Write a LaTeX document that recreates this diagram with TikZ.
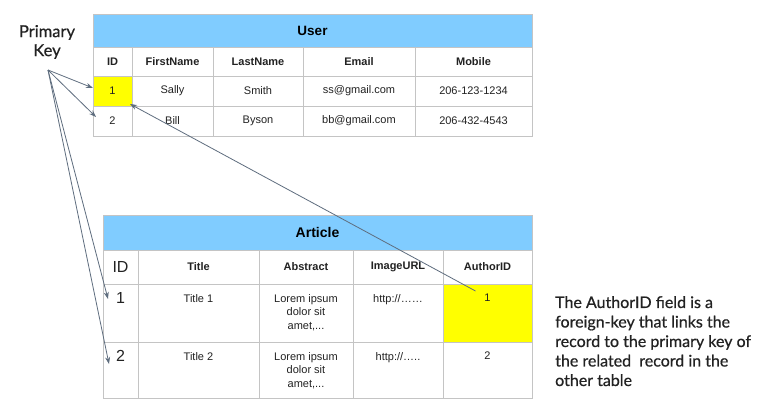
\documentclass[tikz,border=0pt]{standalone}
\usepackage{fontspec}
\setmainfont{Liberation Sans}
\newfontfamily\latofont[FakeBold=0.6]{Lato}
\usetikzlibrary{arrows.meta}
\definecolor{hdrblue}{HTML}{80CCFF}
\definecolor{keyyellow}{HTML}{FFFF00}
\definecolor{gridgray}{HTML}{C4C4C4}
\definecolor{txt}{HTML}{222222}
\definecolor{arrowgray}{HTML}{5E6D7E}
\newcommand\cellbox[7][]{\node[cell,minimum width=#5pt,minimum height=#6pt,#1] (#2) at (#3,#4) {#7};}
\begin{document}
\begin{tikzpicture}[x=1pt,y=-1pt,
  cell/.style={draw=gridgray, line width=0.9pt, inner sep=0pt, outer sep=0pt, anchor=north west,
    font=\fontsize{11}{13}\selectfont, text=txt},
  hdr/.style={fill=hdrblue, text=black},
  colhdr/.style={font=\bfseries\fontsize{11}{13}\selectfont},
  toptext/.style={anchor=north, inner sep=0pt, font=\fontsize{11}{13.7}\selectfont, text=txt, align=center},
  bignum/.style={anchor=north, inner sep=0pt, font=\fontsize{16}{18}\selectfont, text=txt},
  arr/.style={draw=arrowgray, line width=0.8pt, -{Stealth[length=7pt,width=5pt]}},
  note/.style={font=\latofont\fontsize{16}{19.5}\selectfont, text=txt, align=left, inner sep=0pt}]
\useasboundingbox (0,0) rectangle (770,412);
\fill[white] (0,0) rectangle (770,412);

% ---- User table ----
\cellbox[hdr,font=\bfseries\fontsize{13.5}{15}\selectfont]{uh}{93}{14}{439}{33}{User}
\cellbox[colhdr]{uc1}{93}{47}{39}{29}{ID}
\cellbox[colhdr]{uc2}{132}{47}{81}{29}{FirstName}
\cellbox[colhdr]{uc3}{213}{47}{90}{29}{LastName}
\cellbox[colhdr]{uc4}{303}{47}{112}{29}{Email}
\cellbox[colhdr]{uc5}{415}{47}{117}{29}{Mobile}
\cellbox[fill=keyyellow]{u11}{93}{76}{39}{30}{1}
\cellbox{u12}{132}{76}{81}{30}{Sally}
\cellbox{u13}{213}{76}{90}{30}{Smith}
\cellbox{u14}{303}{76}{112}{30}{ss@gmail.com}
\cellbox{u15}{415}{76}{117}{30}{206-123-1234}
\cellbox{u21}{93}{106}{39}{30}{2}
\cellbox{u22}{132}{106}{81}{30}{Bill}
\cellbox{u23}{213}{106}{90}{30}{Byson}
\cellbox{u24}{303}{106}{112}{30}{bb@gmail.com}
\cellbox{u25}{415}{106}{117}{30}{206-432-4543}

% ---- Article table ----
\cellbox[hdr,font=\bfseries\fontsize{14}{16}\selectfont]{ah}{103}{215}{429}{35}{Article}
\cellbox[font=\fontsize{16}{18}\selectfont]{ac1}{103}{250}{35}{34}{ID}
\cellbox[colhdr]{ac2}{138}{250}{121}{34}{Title}
\cellbox[colhdr]{ac3}{259}{250}{94}{34}{Abstract}
\cellbox[colhdr]{ac4}{353}{250}{90}{34}{ImageURL}
\cellbox[colhdr]{ac5}{443}{250}{89}{34}{AuthorID}
\cellbox{a11}{103}{284}{35}{58}{}
\cellbox{a12}{138}{284}{121}{58}{}
\cellbox{a13}{259}{284}{94}{58}{}
\cellbox{a14}{353}{284}{90}{58}{}
\cellbox[fill=keyyellow]{a15}{443}{284}{89}{58}{}
\cellbox{a21}{103}{342}{35}{56}{}
\cellbox{a22}{138}{342}{121}{56}{}
\cellbox{a23}{259}{342}{94}{56}{}
\cellbox{a24}{353}{342}{90}{56}{}
\cellbox{a25}{443}{342}{89}{56}{}

\node[bignum] (t11) at ([yshift=-8pt]a11.north) {1};
\node[toptext] (t12) at ([yshift=-10pt]a12.north) {Title 1};
\node[toptext] (t13) at ([yshift=-10pt]a13.north) {Lorem ipsum\\dolor sit\\amet,...};
\node[toptext] (t14) at ([yshift=-10pt]a14.north) {http://……};
\node[toptext] (t15) at ([yshift=-10pt]a15.north) {1};
\node[bignum] (t21) at ([yshift=-8pt]a21.north) {2};
\node[toptext] (t22) at ([yshift=-10pt]a22.north) {Title 2};
\node[toptext] (t23) at ([yshift=-10pt]a23.north) {Lorem ipsum\\dolor sit\\amet,...};
\node[toptext] (t24) at ([yshift=-10pt]a24.north) {http://…..};
\node[toptext] (t25) at ([yshift=-10pt]a25.north) {2};

% ---- Annotations ----
\node[note, align=center, font=\latofont\fontsize{16.5}{19}\selectfont] (pk) at (47,42) {Primary\\Key};
\coordinate (pkfoot) at (48,70);
\node[note, anchor=north west] (fknote) at (555,296) {The AuthorID field is a\\foreign-key that links the\\record to the primary key of\\the related\ \ record in the\\other table};

% ---- Connectors ----
\draw[arr] (pkfoot) -- ([yshift=3pt]u11.west);
\draw[arr] (pkfoot) -- ([xshift=3pt,yshift=4pt]u21.west);
\draw[arr] (pkfoot) -- ([xshift=5pt,yshift=14pt]a11.west);
\draw[arr] (pkfoot) -- ([xshift=6pt,yshift=6pt]a21.west);
\draw[arr] ([xshift=-12pt,yshift=-7pt]a15.north) -- ([xshift=-2pt,yshift=2pt]u11.south east);
\end{tikzpicture}
\end{document}
